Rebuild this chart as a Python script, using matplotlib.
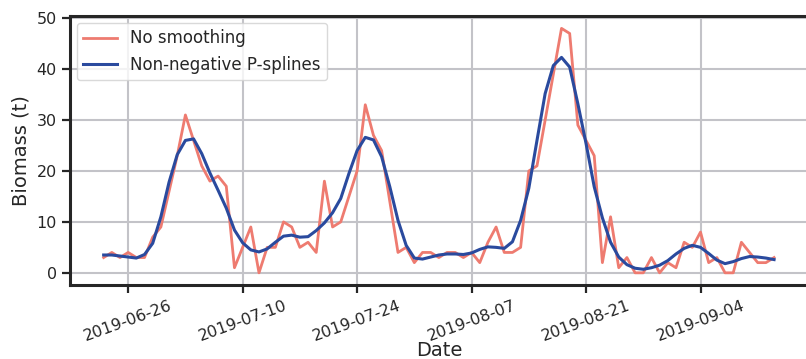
import numpy as np
import pandas as pd
import matplotlib
matplotlib.use("Agg")
import matplotlib.pyplot as plt
import matplotlib.dates as mdates

# daily biomass readings, 2019-06-23 .. 2019-09-13
start_date = "2019-06-23"
raw_biomass = [
    3, 4, 3, 4, 3, 3, 7, 9, 16, 23,          # 06-23 .. 07-02
    31, 26, 21, 18, 19, 17, 1, 5, 9, 0,      # 07-03 .. 07-12
    5, 5, 10, 9, 5, 6, 4, 18, 9, 10,         # 07-13 .. 07-22
    15, 20, 33, 27, 24, 14, 4, 5, 2, 4,      # 07-23 .. 08-01
    4, 3, 4, 4, 3, 4, 2, 6, 9, 4,            # 08-02 .. 08-11
    4, 5, 20, 21, 30, 39, 48, 47, 29, 26,    # 08-12 .. 08-21
    23, 2, 11, 1, 3, 0, 0, 3, 0, 2,          # 08-22 .. 08-31
    1, 6, 5, 8, 2, 3, 0, 0, 6, 4,            # 09-01 .. 09-10
    2, 2, 3,                                 # 09-11 .. 09-13
]
smoothed_biomass = [
    3.5, 3.5, 3.3, 3.1, 2.9, 3.6, 5.8, 11.0, 17.8, 23.2,
    26.0, 26.3, 23.4, 19.6, 16.2, 12.7, 8.4, 5.9, 4.5, 4.1,
    4.7, 6.0, 7.2, 7.4, 7.0, 7.1, 8.3, 9.8, 11.8, 14.6,
    19.5, 24.0, 26.6, 26.1, 22.8, 16.9, 10.3, 5.4, 2.9, 2.7,
    3.1, 3.5, 3.7, 3.7, 3.6, 3.9, 4.6, 5.1, 5.0, 4.8,
    6.1, 10.3, 16.6, 26.0, 35.2, 40.7, 42.3, 40.4, 33.2, 25.4,
    16.9, 10.8, 6.0, 3.1, 1.6, 0.9, 0.7, 1.0, 1.5, 2.4,
    3.7, 4.8, 5.4, 5.0, 3.8, 2.5, 1.8, 2.2, 2.8, 3.2,
    3.1, 2.9, 2.6,
]
dates = pd.date_range(start_date, periods=len(raw_biomass), freq="D")
tick_dates = pd.date_range("2019-06-26", "2019-09-04", freq="14D")

ink = "#262626"
plt.rcParams["font.family"] = ["DejaVu Sans"]

fig = plt.figure(figsize=(8.06, 3.59), dpi=100)
ax = fig.add_axes([0.087, 0.206, 0.915, 0.749])

ax.plot(dates, raw_biomass, color="#ee7b70", lw=2.0, label="No smoothing", zorder=3)
ax.plot(dates, smoothed_biomass, color="#2a4a9e", lw=2.2, label="Non-negative P-splines",
        zorder=4, solid_joinstyle="round")

ax.set_xticks(tick_dates)
ax.xaxis.set_major_formatter(mdates.DateFormatter("%Y-%m-%d"))
ax.set_yticks([0, 10, 20, 30, 40, 50])
plt.setp(ax.get_xticklabels(), rotation=20)

ax.grid(True, color="#c3c3c8", lw=1.5, zorder=0)
ax.set_axisbelow(True)
for side in ["left", "bottom", "top", "right"]:
    ax.spines[side].set_linewidth(2.2)
    ax.spines[side].set_color(ink)
ax.tick_params(axis="both", labelsize=11.5, colors=ink, length=6, width=1.6, direction="out")

ax.set_xlabel("Date", fontsize=14, color=ink, labelpad=-2)
ax.set_ylabel("Biomass (t)", fontsize=14, color=ink)

leg = ax.legend(loc="upper left", fontsize=12, frameon=True, fancybox=True,
                borderaxespad=0.4, handlelength=2.0)
leg.get_frame().set_edgecolor("#d0d0d0")
for t in leg.get_texts():
    t.set_color(ink)

fig.savefig("out.png", dpi=100)
